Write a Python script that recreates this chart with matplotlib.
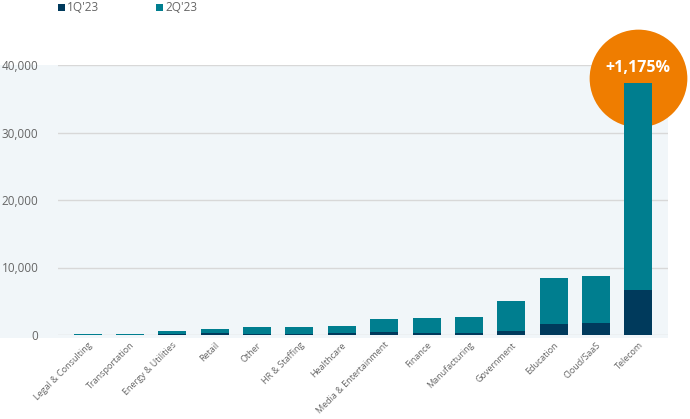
import matplotlib
matplotlib.use("Agg")
import matplotlib.pyplot as plt
from matplotlib.patches import Rectangle
from matplotlib.ticker import FuncFormatter

plt.rcParams["font.family"] = ["Open Sans", "DejaVu Sans"]

industries = ["Legal & Consulting", "Transportation", "Energy & Utilities", "Retail", "Other",
              "HR & Staffing", "Healthcare", "Media & Entertainment", "Finance", "Manufacturing",
              "Government", "Education", "Cloud/SaaS", "Telecom"]
q1_23 = [60, 50, 150, 300, 200, 200, 250, 500, 300, 300, 600, 1600, 1800, 6600]
q2_23 = [200, 200, 600, 900, 1200, 1200, 1350, 2350, 2450, 2700, 5100, 8500, 8700, 37300]
yticks = [0, 10000, 20000, 30000, 40000]

navy = "#003a5c"
teal = "#007e8f"
orange = "#ef7d00"
grey = "#666666"

fig = plt.figure(figsize=(6.9, 4.19), dpi=100, facecolor="white")
ax = fig.add_axes([58 / 690, 1 - 335 / 419, 610 / 690, 270 / 419])
ax.set_facecolor("none")
# light panel behind the plot
ax.add_patch(Rectangle((0, 1 - 338 / 419), 668 / 690, (338 - 65) / 419,
                       transform=fig.transFigure, facecolor="#f1f6f9",
                       edgecolor="none", zorder=-1, clip_on=False))

x = range(len(industries))
ax.bar(x, q2_23, width=0.66, color=teal, zorder=3, label="2Q'23")
ax.bar(x, q1_23, width=0.66, color=navy, zorder=4, label="1Q'23")

ax.set_ylim(0, 40000)
ax.set_xlim(-0.7, 13.7)
ax.set_yticks(yticks)
ax.yaxis.set_major_formatter(FuncFormatter(lambda v, p: f"{int(v):,}"))
ax.grid(axis="y", color="#d8d8d8", linewidth=1, zorder=0)
for s in ax.spines.values():
    s.set_visible(False)
ax.tick_params(axis="both", length=0, colors=grey, labelsize=8.5)
ax.tick_params(axis="y", pad=14)
ax.tick_params(axis="x", pad=4)
ax.set_xticks(list(x))
ax.set_xticklabels(industries, rotation=45, ha="right", rotation_mode="anchor", fontsize=6.5, color=grey)

# orange highlight bubble behind Telecom bar
ax.scatter([13], [38100], s=4950, color=orange, zorder=2, clip_on=False, linewidths=0)
ax.text(13, 39600, "+1,175%", color="white", fontsize=11.5, fontweight="bold",
        ha="center", va="center", zorder=5)

# legend at the top
ax.add_patch(Rectangle((58 / 690, 1 - 11 / 419), 7 / 690, 7 / 419, transform=fig.transFigure,
                       facecolor=navy, edgecolor="none", clip_on=False))
fig.text(67 / 690, 1 - 7.5 / 419, "1Q'23", color=grey, fontsize=8.5, va="center")
ax.add_patch(Rectangle((156 / 690, 1 - 11 / 419), 7 / 690, 7 / 419, transform=fig.transFigure,
                       facecolor=teal, edgecolor="none", clip_on=False))
fig.text(165 / 690, 1 - 7.5 / 419, "2Q'23", color=grey, fontsize=8.5, va="center")

fig.savefig("out.png", dpi=100, facecolor="white")
